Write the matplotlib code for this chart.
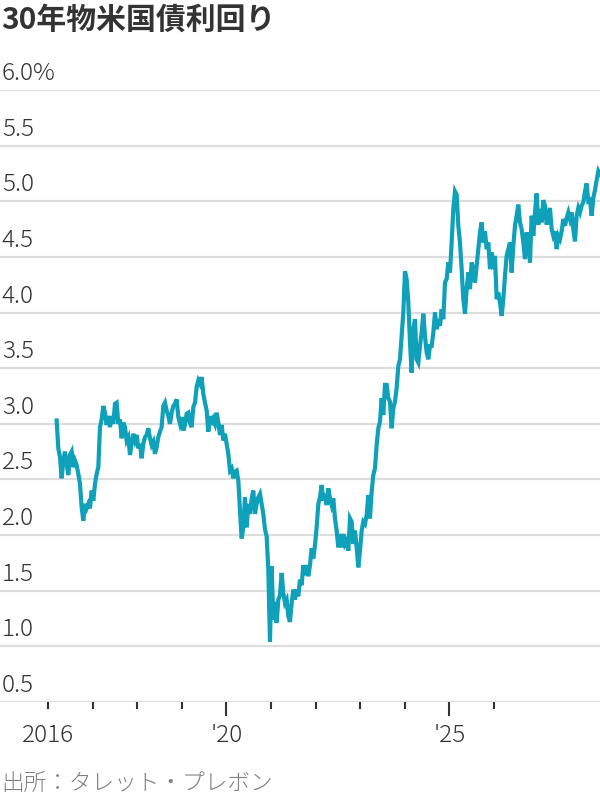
import matplotlib
matplotlib.use("Agg")
import matplotlib.pyplot as plt
import matplotlib.transforms as mtransforms
import numpy as np

# ─── DATA ──────────────────────────────────────────────────────────────────
TITLE  = "30年物米国債利回り"
SOURCE = "出所：タレット・プレボン"

# sampling of the series on the x axis (decimal years, roughly every two weeks)
START_YEAR = 2016.194
STEP_YEAR  = 0.03737

# 30-year US Treasury yield, %
yields = [
    # 2016 - 2018
    3.03, 2.78, 2.70, 2.51, 2.67, 2.75, 2.64, 2.54, 2.72, 2.75,
    2.61, 2.67, 2.63, 2.55, 2.46, 2.25, 2.13, 2.28, 2.24, 2.28,
    2.24, 2.40, 2.31, 2.46, 2.55, 2.61, 2.97, 3.04, 3.16, 3.10,
    2.99, 3.07, 2.97, 3.07, 3.00, 3.18, 3.19, 3.00, 3.04, 2.87,
    3.01, 2.97, 2.85, 2.88, 2.72, 2.82, 2.91, 2.85, 2.90, 2.78,
    2.82, 2.69, 2.82, 2.88,
    # 2018 - 2019
    2.90, 2.96, 2.87, 2.81, 2.84, 2.73, 2.79, 2.88, 2.93, 2.97,
    3.16, 3.19, 3.12, 3.07, 3.00, 3.10, 3.16, 3.18, 3.22, 3.06,
    3.00, 3.06, 2.94, 2.99, 3.09, 3.10, 3.01, 2.97, 3.15, 3.19,
    3.33, 3.39, 3.36, 3.42, 3.27, 3.19, 3.12, 2.93, 3.07, 2.99,
    3.04, 3.00, 3.10, 3.01, 2.90, 2.99, 2.85, 2.91, 2.82, 2.73,
    # 2020 - 2021
    2.58, 2.60, 2.51, 2.57, 2.58, 2.49, 2.22, 1.97, 2.07, 2.34,
    2.07, 2.28, 2.19, 2.33, 2.40, 2.19, 2.28, 2.34, 2.37, 2.28,
    2.19, 2.05, 1.99, 1.69, 1.04, 1.72, 1.24, 1.40, 1.21, 1.42,
    1.46, 1.66, 1.48, 1.39, 1.42, 1.27, 1.22, 1.39, 1.51, 1.42,
    1.51, 1.45, 1.60, 1.55, 1.73, 1.64, 1.73, 1.63, 1.73, 1.88,
    1.79, 1.91, 2.07, 2.28, 2.34, 2.45, 2.31, 2.37,
    # 2022 - 2023
    2.27, 2.42, 2.33, 2.27, 2.33, 2.15, 2.04, 1.89, 2.01, 1.89,
    2.01, 1.92, 1.95, 1.86, 2.15, 2.12, 1.92, 2.04, 1.89, 1.71,
    1.86, 2.04, 2.12, 2.10, 2.18, 2.36, 2.15, 2.39, 2.54, 2.60,
    2.81, 2.96, 3.02, 3.23, 3.08, 3.35, 3.35, 3.23, 3.20, 2.96,
    3.14, 3.20, 3.32, 3.52, 3.58, 3.79, 4.00, 4.37, 4.30, 4.09,
    3.73, 3.46, 3.85, 3.94,
    # 2024 onwards
    3.58, 3.55, 3.70, 3.82, 3.99, 3.79, 3.64, 3.58, 3.70, 3.70,
    3.82, 4.00, 3.85, 3.94, 3.88, 4.03, 3.94, 4.27, 4.30, 4.45,
    4.36, 4.63, 4.93, 5.09, 5.06, 4.78, 4.63, 4.39, 4.12, 3.99,
    4.21, 4.36, 4.21, 4.45, 4.39, 4.27, 4.42, 4.57, 4.72, 4.81,
    4.63, 4.73, 4.57, 4.63, 4.39, 4.54, 4.39, 4.51, 4.12, 4.18,
    4.09, 3.97, 4.12, 4.33, 4.51, 4.57, 4.63, 4.36, 4.60, 4.78,
    4.87, 4.97, 4.81, 4.75, 4.63, 4.48, 4.72, 4.63, 4.45, 4.87,
    4.69, 4.90, 5.07, 4.79, 4.93, 4.81, 5.01, 4.96, 4.79, 4.85,
    4.94, 4.75, 4.69, 4.73, 4.57, 4.69, 4.66, 4.73, 4.84, 4.78,
    4.85, 4.90, 4.84, 4.90, 4.75, 4.64, 4.87, 4.94, 4.90, 4.96,
    4.99, 5.09, 5.16, 5.00, 5.01, 4.87, 5.03, 5.10, 5.19, 5.27,
    5.24,
]

y_ticks     = [0.5, 1.0, 1.5, 2.0, 2.5, 3.0, 3.5, 4.0, 4.5, 5.0, 5.5, 6.0]
y_labels    = ["0.5", "1.0", "1.5", "2.0", "2.5", "3.0", "3.5", "4.0", "4.5", "5.0", "5.5", "6.0%"]
x_ticks     = [2016, 2017, 2018, 2019, 2020, 2021, 2022, 2023, 2024, 2025, 2026]
x_labels    = {2016: "2016", 2020: "'20", 2025: "'25"}
x_long      = [2020, 2025]

# ─── STYLE ─────────────────────────────────────────────────────────────────
LINE_COLOR = "#0fa0ba"
GRID_COLOR = "#dddddd"
TEXT_COLOR = "#333333"
plt.rcParams["font.family"] = ["Noto Sans CJK JP", "DejaVu Sans"]

# ─── PLOT ──────────────────────────────────────────────────────────────────
years = START_YEAR + STEP_YEAR * np.arange(len(yields))

fig = plt.figure(figsize=(6, 8), dpi=100)
ax = fig.add_axes([0.0, 0.1225, 1.0, 0.765])

for yv in y_ticks:
    ax.axhline(yv, color=GRID_COLOR, lw=1.6, zorder=1)

ax.plot(years, yields, color=LINE_COLOR, lw=3.0, solid_joinstyle="miter",
        zorder=3, clip_on=False)

ax.set_xlim(2014.924, 2028.377)
ax.set_ylim(0.5, 6.0)

for sp in ax.spines.values():
    sp.set_visible(False)
ax.set_yticks([])

# y labels sit on top of the grid lines, at the left edge
offset = mtransforms.offset_copy(ax.get_yaxis_transform(), fig=fig, x=2, y=4, units="dots")
for yv, lbl in zip(y_ticks, y_labels):
    ax.text(0.0, yv, lbl, transform=offset, ha="left", va="bottom",
            fontsize=17.5, color=TEXT_COLOR, fontweight="light")

# x ticks: long marks for '20 and '25, short ones for the rest
ax.set_xticks(x_ticks)
ax.set_xticklabels([x_labels.get(t, "") for t in x_ticks],
                   fontsize=17.5, color=TEXT_COLOR, fontweight="light")
ax.tick_params(axis="x", length=5, width=1.5, color=TEXT_COLOR, pad=10)
for t, tick in zip(x_ticks, ax.xaxis.get_major_ticks()):
    if t in x_long:
        tick.tick1line.set_markersize(10)

fig.text(0.002, 1 - 20 / 800, TITLE, ha="left", va="center",
         fontsize=21.5, fontweight="bold", color=TEXT_COLOR)
fig.text(0.002, 1 - 783 / 800, SOURCE, ha="left", va="center",
         fontsize=16.3, color="#808080", fontweight="light")

fig.savefig("out.png", dpi=100)
plt.close(fig)
